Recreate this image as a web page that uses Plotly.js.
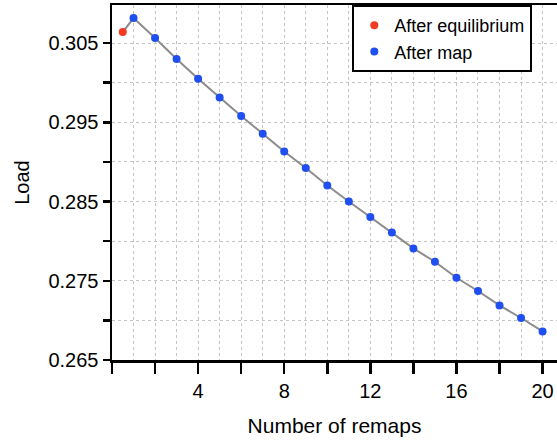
<!DOCTYPE html>
<html>
<head>
<meta charset="utf-8">
<script src="https://cdn.plot.ly/plotly-3.0.1.min.js"></script>
<style>html,body{margin:0;padding:0;background:#fff;}#chart{width:557px;height:440px;}</style>
</head>
<body>
<div id="chart"></div>
<script>
// Data
const eqX = [0.5];
const eqY = [0.30639];
const mapX = [1,2,3,4,5,6,7,8,9,10,11,12,13,14,15,16,17,18,19,20];
const mapY = [0.30815,0.30563,0.30298,0.30050,0.29814,0.29579,0.29356,0.29132,0.28923,0.28703,
              0.28501,0.28304,0.28110,0.27908,0.27740,0.27538,0.27371,0.27189,0.27030,0.26861];
const xTickVals = [0,2,4,6,8,10,12,14,16,18,20];
const xTickText = ['','','4','','8','','12','','16','','20'];
const yTickVals = [0.265,0.270,0.275,0.280,0.285,0.290,0.295,0.300,0.305];
const yTickText = ['0.265','','0.275','','0.285','','0.295','','0.305'];

const FONT = 'Liberation Sans, Arial, sans-serif';

const traces = [
  {
    x: eqX.concat(mapX), y: eqY.concat(mapY),
    type: 'scatter', mode: 'lines',
    line: {color: '#8c8c8c', width: 2},
    showlegend: false, hoverinfo: 'skip'
  },
  {
    x: eqX, y: eqY, name: 'After equilibrium',
    type: 'scatter', mode: 'markers',
    marker: {color: '#f23a22', size: 8}
  },
  {
    x: mapX, y: mapY, name: 'After map',
    type: 'scatter', mode: 'markers',
    marker: {color: '#1f4ff0', size: 8}
  }
];

const layout = {
  width: 557, height: 440,
  margin: {l: 112, r: 0, t: 5, b: 80, autoexpand: false},
  paper_bgcolor: '#ffffff', plot_bgcolor: '#ffffff',
  font: {family: FONT, color: '#000', size: 20},
  showlegend: true,
  legend: {
    x: 0.54, y: 1, xanchor: 'left', yanchor: 'top',
    bordercolor: '#000', borderwidth: 2, bgcolor: '#fff',
    font: {family: FONT, size: 18, color: '#000'},
    tracegroupgap: 0
  },
  xaxis: {
    range: [0, 20.67],
    tickmode: 'array', tickvals: xTickVals, ticktext: xTickText,
    ticks: 'outside', ticklen: 11, tickwidth: 2.5, tickcolor: '#000',
    showline: true, linecolor: '#000', linewidth: 2.5, mirror: true,
    showgrid: true, gridcolor: '#c4c4c4', gridwidth: 1, griddash: 'dot',
    minor: {tickmode: 'linear', tick0: 0, dtick: 1, showgrid: true, gridcolor: '#c4c4c4', gridwidth: 1, griddash: 'dot', ticks: ''},
    zeroline: false,
    tickfont: {family: FONT, size: 20},
    title: {text: 'Number of remaps', font: {family: FONT, size: 21}, standoff: 18}
  },
  yaxis: {
    range: [0.265, 0.3098],
    tickmode: 'array', tickvals: yTickVals, ticktext: yTickText,
    ticks: 'outside', ticklen: 7, tickwidth: 2.5, tickcolor: '#000',
    showline: true, linecolor: '#000', linewidth: 2.5,
    showgrid: true, gridcolor: '#c4c4c4', gridwidth: 1, griddash: 'dot',
    zeroline: false,
    tickfont: {family: FONT, size: 20},
    title: {text: 'Load', font: {family: FONT, size: 20}, standoff: 14}
  }
};

Plotly.newPlot('chart', traces, layout, {displayModeBar: false, staticPlot: true});
</script>
</body>
</html>
